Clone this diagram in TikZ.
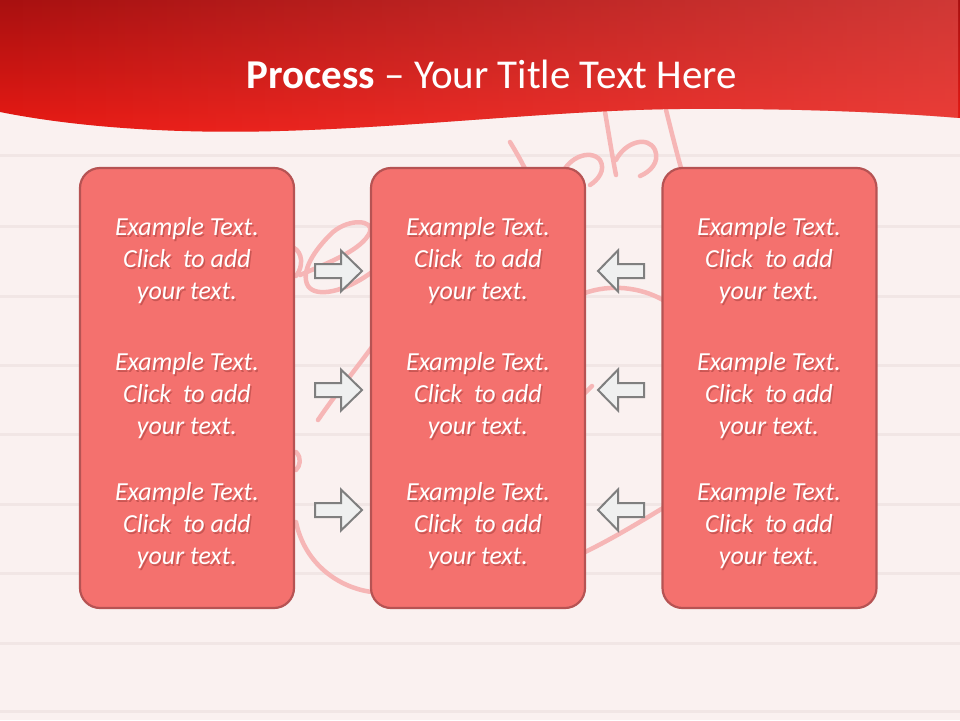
\documentclass[tikz,border=0pt]{standalone}
\usepackage{fontspec}
\setmainfont{Carlito}
\usetikzlibrary{fadings}
\definecolor{bgc}{HTML}{FAF1F0}
\definecolor{bgline}{HTML}{F1E6E5}
\definecolor{hdtop}{HTML}{A81010}
\definecolor{hdbot}{HTML}{EA1A14}
\definecolor{hdlight}{HTML}{F05A55}
\definecolor{boxfill}{HTML}{F4716E}
\definecolor{boxline}{HTML}{B65353}
\definecolor{arrfill}{HTML}{EFF0F0}
\definecolor{arrline}{HTML}{7F7F7F}
\definecolor{doodle}{HTML}{F6B6B6}
\definecolor{txtshadowc}{HTML}{A8403E}
\tikzset{
  panel/.style={draw=boxline, line width=2.2pt, fill=boxfill, rounded corners=20pt,
    minimum width=214pt, minimum height=440pt, inner sep=0pt},
  txt/.style={text=white, align=center, font=\fontsize{26}{32}\selectfont\itshape, inner sep=0pt},
  txtsh/.style={txt, text=txtshadowc, opacity=0.55},
  blockarrow/.style={draw=arrline, fill=arrfill, line width=2pt, line join=miter},
  bgrule/.style={draw=bgline, line width=3pt},
  scribble/.style={draw=doodle, line width=4.5pt, line cap=round, line join=round},
}
\newcommand\exbox[3]{%
  \node[txtsh, xshift=1.5pt, yshift=-2pt] at (#2,#3) {Example Text.\\Click\ \ to add\\your text.};
  \node[txt] (#1) at (#2,#3) {Example Text.\\Click\ \ to add\\your text.};}
\newcommand\rarr[3]{% name, tip x, y
  \coordinate (#1) at (#2,#3);
  \draw[blockarrow] ([shift={(-47,-7)}]#1) -- ([shift={(-21,-7)}]#1) -- ([shift={(-21,-20.5)}]#1)
    -- (#1) -- ([shift={(-21,20.5)}]#1) -- ([shift={(-21,7)}]#1) -- ([shift={(-47,7)}]#1) -- cycle;}
\newcommand\larr[3]{% name, tip x, y
  \coordinate (#1) at (#2,#3);
  \draw[blockarrow] ([shift={(46,-7)}]#1) -- ([shift={(20,-7)}]#1) -- ([shift={(20,-20.5)}]#1)
    -- (#1) -- ([shift={(20,20.5)}]#1) -- ([shift={(20,7)}]#1) -- ([shift={(46,7)}]#1) -- cycle;}
\begin{document}
\begin{tikzpicture}[x=1pt,y=-1pt]
\useasboundingbox (0,0) rectangle (960,720);
% background
\fill[bgc] (0,0) rectangle (960,720);
\foreach \yy in {155,226,296,365,434,504,573,643,711}
  \draw[bgrule] (0,\yy) -- (960,\yy);
% background doodle
\draw[scribble] (300,275) .. controls (330,262) and (362,250) .. (370,232)
  .. controls (374,220) and (350,218) .. (333,232) .. controls (314,250) and (300,272) .. (308,286)
  .. controls (316,298) and (345,292) .. (372,272);
\draw[scribble] (294,248) .. controls (302,252) and (304,266) .. (296,276);
\draw[scribble] (318,420) .. controls (335,395) and (355,370) .. (372,347);
\draw[scribble] (296,452) .. controls (302,458) and (300,466) .. (296,470);
\draw[scribble] (296,522) .. controls (305,565) and (340,588) .. (372,592);
\draw[scribble] (585,293) .. controls (610,284) and (640,287) .. (663,300);
\draw[scribble] (585,393) -- (592,386);
\draw[scribble] (585,552) .. controls (610,540) and (640,522) .. (663,508);
\draw[scribble] (510,142) .. controls (516,152) and (522,162) .. (528,175);
\draw[scribble] (560,180) .. controls (565,158) and (590,148) .. (600,160) .. controls (606,170) and (598,180) .. (590,185);
\draw[scribble] (605,112) .. controls (609,135) and (612,155) .. (616,175);
\draw[scribble] (616,160) .. controls (625,142) and (648,135) .. (655,150) .. controls (660,162) and (650,172) .. (640,176);
\draw[scribble] (666,110) .. controls (671,130) and (676,150) .. (681,168);
% header
\shade[top color=hdtop, bottom color=hdbot]
  (0,0) -- (960,0) -- (960,118)
  .. controls (900,113) and (800,108) .. (680,109)
  .. controls (560,110) and (420,127) .. (280,131)
  .. controls (180,134) and (80,128) .. (0,112) -- cycle;
\fill[hdlight, path fading=west, opacity=0.55]
  (0,0) -- (960,0) -- (960,118)
  .. controls (900,113) and (800,108) .. (680,109)
  .. controls (560,110) and (420,127) .. (280,131)
  .. controls (180,134) and (80,128) .. (0,112) -- cycle;
\node[text=white, font=\fontsize{41}{48}\selectfont, anchor=base, inner sep=0pt] (title) at (492,88)
  {\textbf{Process} – Your Title Text Here};
% panels
\node[panel] (p1) at (187,388) {};
\node[panel] (p2) at (478,388) {};
\node[panel] (p3) at (769.5,388) {};
% texts
\exbox{t11}{187}{261}\exbox{t12}{187}{396}\exbox{t13}{187}{526}
\exbox{t21}{478}{261}\exbox{t22}{478}{396}\exbox{t23}{478}{526}
\exbox{t31}{769}{261}\exbox{t32}{769}{396}\exbox{t33}{769}{526}
% arrows
\rarr{ra1}{362}{271}\rarr{ra2}{362}{390}\rarr{ra3}{362}{510}
\larr{la1}{598}{271}\larr{la2}{598}{390}\larr{la3}{598}{510}
\end{tikzpicture}
\end{document}
